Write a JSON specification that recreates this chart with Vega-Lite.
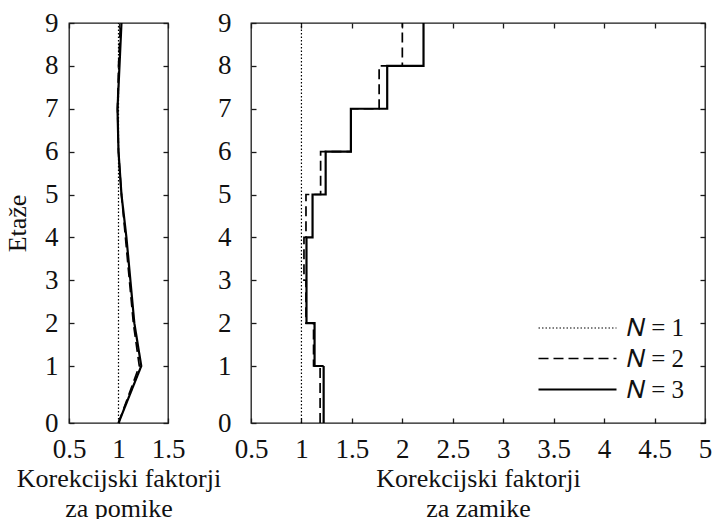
{
  "$schema": "https://vega.github.io/schema/vega-lite/v6.json",
  "background": "white",
  "padding": {"left": 3, "top": 8, "right": 5, "bottom": 0},
  "bounds": "flush",
  "spacing": 83,
  "config": {
    "font": "'Liberation Serif', 'Times New Roman', serif",
    "view": {"stroke": "#1a1a1a", "strokeWidth": 1.3},
    "axis": {
      "domain": false, "grid": false,
      "tickColor": "#1a1a1a", "tickSize": -5, "tickWidth": 1.3,
      "labelFont": "'Liberation Serif', 'Times New Roman', serif", "labelFontSize": 27, "labelColor": "#111",
      "titleFont": "'Liberation Serif', 'Times New Roman', serif", "titleFontSize": 26, "titleFontWeight": "normal", "titleColor": "#111",
      "labelFlush": false, "labelOverlap": false, "format": "~g"
    },
    "axisX": {"labelPadding": 18, "titlePadding": 3, "titleLineHeight": 30},
    "axisY": {"labelPadding": 16, "titlePadding": 14}
  },
  "datasets": {
    "pomik": [
      {"N": "N = 1", "etaza": 0, "f": 1.0}, {"N": "N = 1", "etaza": 1, "f": 1.0}, {"N": "N = 1", "etaza": 2, "f": 1.0},
      {"N": "N = 1", "etaza": 3, "f": 1.0}, {"N": "N = 1", "etaza": 4, "f": 1.0}, {"N": "N = 1", "etaza": 5, "f": 1.0},
      {"N": "N = 1", "etaza": 6, "f": 1.0}, {"N": "N = 1", "etaza": 7, "f": 1.0}, {"N": "N = 1", "etaza": 8, "f": 1.0},
      {"N": "N = 1", "etaza": 9, "f": 1.0},
      {"N": "N = 2", "etaza": 0, "f": 1.0}, {"N": "N = 2", "etaza": 1, "f": 1.21}, {"N": "N = 2", "etaza": 2, "f": 1.15},
      {"N": "N = 2", "etaza": 3, "f": 1.11}, {"N": "N = 2", "etaza": 4, "f": 1.07}, {"N": "N = 2", "etaza": 5, "f": 1.03},
      {"N": "N = 2", "etaza": 6, "f": 1.0}, {"N": "N = 2", "etaza": 7, "f": 0.99}, {"N": "N = 2", "etaza": 8, "f": 1.0},
      {"N": "N = 2", "etaza": 9, "f": 1.02},
      {"N": "N = 3", "etaza": 0, "f": 1.0}, {"N": "N = 3", "etaza": 1, "f": 1.23}, {"N": "N = 3", "etaza": 2, "f": 1.16},
      {"N": "N = 3", "etaza": 3, "f": 1.12}, {"N": "N = 3", "etaza": 4, "f": 1.08}, {"N": "N = 3", "etaza": 5, "f": 1.03},
      {"N": "N = 3", "etaza": 6, "f": 1.0}, {"N": "N = 3", "etaza": 7, "f": 0.99}, {"N": "N = 3", "etaza": 8, "f": 1.01},
      {"N": "N = 3", "etaza": 9, "f": 1.03}
    ],
    "zamik": [
      {"N": "N = 1", "etaza": 0, "f": 1.0}, {"N": "N = 1", "etaza": 1, "f": 1.0}, {"N": "N = 1", "etaza": 2, "f": 1.0},
      {"N": "N = 1", "etaza": 3, "f": 1.0}, {"N": "N = 1", "etaza": 4, "f": 1.0}, {"N": "N = 1", "etaza": 5, "f": 1.0},
      {"N": "N = 1", "etaza": 6, "f": 1.0}, {"N": "N = 1", "etaza": 7, "f": 1.0}, {"N": "N = 1", "etaza": 8, "f": 1.0},
      {"N": "N = 1", "etaza": 9, "f": 1.0},
      {"N": "N = 2", "etaza": 0, "f": 1.185}, {"N": "N = 2", "etaza": 1, "f": 1.12}, {"N": "N = 2", "etaza": 2, "f": 1.045},
      {"N": "N = 2", "etaza": 3, "f": 1.025}, {"N": "N = 2", "etaza": 4, "f": 1.045}, {"N": "N = 2", "etaza": 5, "f": 1.19},
      {"N": "N = 2", "etaza": 6, "f": 1.49}, {"N": "N = 2", "etaza": 7, "f": 1.77}, {"N": "N = 2", "etaza": 8, "f": 2.0},
      {"N": "N = 2", "etaza": 9, "f": 2.0},
      {"N": "N = 3", "etaza": 0, "f": 1.22}, {"N": "N = 3", "etaza": 1, "f": 1.13}, {"N": "N = 3", "etaza": 2, "f": 1.05},
      {"N": "N = 3", "etaza": 3, "f": 1.05}, {"N": "N = 3", "etaza": 4, "f": 1.11}, {"N": "N = 3", "etaza": 5, "f": 1.24},
      {"N": "N = 3", "etaza": 6, "f": 1.49}, {"N": "N = 3", "etaza": 7, "f": 1.85}, {"N": "N = 3", "etaza": 8, "f": 2.21},
      {"N": "N = 3", "etaza": 9, "f": 2.21}
    ]
  },
  "hconcat": [
    {
      "width": 99, "height": 400,
      "data": {"name": "pomik"},
      "layer": [
        {
          "mark": {"type": "line", "color": "#000"},
          "encoding": {
            "x": {"field": "f", "type": "quantitative",
                  "scale": {"domain": [0.5, 1.5], "nice": false, "zero": false},
                  "axis": {"values": [0.5, 1, 1.5], "title": ["Korekcijski faktorji", "za pomike"]}},
            "y": {"field": "etaza", "type": "quantitative",
                  "scale": {"domain": [0, 1, 9], "range": [400, 343, 0], "nice": false, "zero": false},
                  "axis": {"values": [0, 1, 2, 3, 4, 5, 6, 7, 8, 9], "title": "Etaže"}},
            "order": {"field": "etaza", "type": "quantitative"},
            "strokeDash": {"field": "N", "type": "nominal",
                  "scale": {"domain": ["N = 1", "N = 2", "N = 3"], "range": [[1.5, 2], [10, 5], [1, 0]]}, "legend": null},
            "strokeWidth": {"field": "N", "type": "nominal",
                  "scale": {"domain": ["N = 1", "N = 2", "N = 3"], "range": [1.2, 2.2, 4]}, "legend": null}
          }
        },
        {
          "mark": {"type": "line", "opacity": 0},
          "encoding": {
            "x": {"field": "f", "type": "quantitative",
                  "scale": {"domain": [0.5, 1.5], "nice": false, "zero": false},
                  "axis": {"orient": "top", "values": [0.5, 1, 1.5], "labels": false, "title": null}},
            "y": {"field": "etaza", "type": "quantitative",
                  "scale": {"domain": [0, 1, 9], "range": [400, 343, 0], "nice": false, "zero": false},
                  "axis": {"orient": "right", "values": [0, 1, 2, 3, 4, 5, 6, 7, 8, 9], "labels": false, "title": null}},
            "detail": {"field": "N"}
          }
        }
      ],
      "resolve": {"axis": {"x": "independent", "y": "independent"}}
    },
    {
      "width": 454, "height": 400,
      "data": {"name": "zamik"},
      "layer": [
        {
          "mark": {"type": "line", "color": "#000", "interpolate": "step-before"},
          "encoding": {
            "x": {"field": "f", "type": "quantitative",
                  "scale": {"domain": [0.5, 5], "nice": false, "zero": false},
                  "axis": {"values": [0.5, 1, 1.5, 2, 2.5, 3, 3.5, 4, 4.5, 5], "title": ["Korekcijski faktorji", "za zamike"]}},
            "y": {"field": "etaza", "type": "quantitative",
                  "scale": {"domain": [0, 1, 9], "range": [400, 343, 0], "nice": false, "zero": false},
                  "axis": {"values": [0, 1, 2, 3, 4, 5, 6, 7, 8, 9], "title": null, "labelPadding": 25}},
            "order": {"field": "etaza", "type": "quantitative"},
            "strokeDash": {"field": "N", "type": "nominal",
                  "scale": {"domain": ["N = 1", "N = 2", "N = 3"], "range": [[1.5, 2], [10, 5], [1, 0]]},
                  "legend": {"title": null, "orient": "bottom-right", "offset": 20,
                             "symbolType": "M-1,0H5", "symbolSize": 676, "symbolStrokeColor": "#000", "symbolFillColor": "transparent",
                             "labelFont": "'Liberation Serif', 'Times New Roman', serif", "labelFontSize": 25, "labelColor": "#111", "labelOffset": 61,
                             "rowPadding": 3.5, "labelExpr": "replace(datum.label, 'N', '𝑁')"}},
            "strokeWidth": {"field": "N", "type": "nominal",
                  "scale": {"domain": ["N = 1", "N = 2", "N = 3"], "range": [1.2, 2.2, 4]},
                  "legend": {"title": null, "orient": "bottom-right", "offset": 20,
                             "symbolType": "M-1,0H5", "symbolSize": 676, "symbolStrokeColor": "#000", "symbolFillColor": "transparent",
                             "labelFont": "'Liberation Serif', 'Times New Roman', serif", "labelFontSize": 25, "labelColor": "#111", "labelOffset": 61,
                             "rowPadding": 3.5, "labelExpr": "replace(datum.label, 'N', '𝑁')"}}
          }
        },
        {
          "mark": {"type": "line", "opacity": 0},
          "encoding": {
            "x": {"field": "f", "type": "quantitative",
                  "scale": {"domain": [0.5, 5], "nice": false, "zero": false},
                  "axis": {"orient": "top", "values": [0.5, 1, 1.5, 2, 2.5, 3, 3.5, 4, 4.5, 5], "labels": false, "title": null}},
            "y": {"field": "etaza", "type": "quantitative",
                  "scale": {"domain": [0, 1, 9], "range": [400, 343, 0], "nice": false, "zero": false},
                  "axis": {"orient": "right", "values": [0, 1, 2, 3, 4, 5, 6, 7, 8, 9], "labels": false, "title": null}},
            "detail": {"field": "N"}
          }
        }
      ],
      "resolve": {"axis": {"x": "independent", "y": "independent"}}
    }
  ],
  "resolve": {"scale": {"strokeDash": "independent", "strokeWidth": "independent"}}
}
